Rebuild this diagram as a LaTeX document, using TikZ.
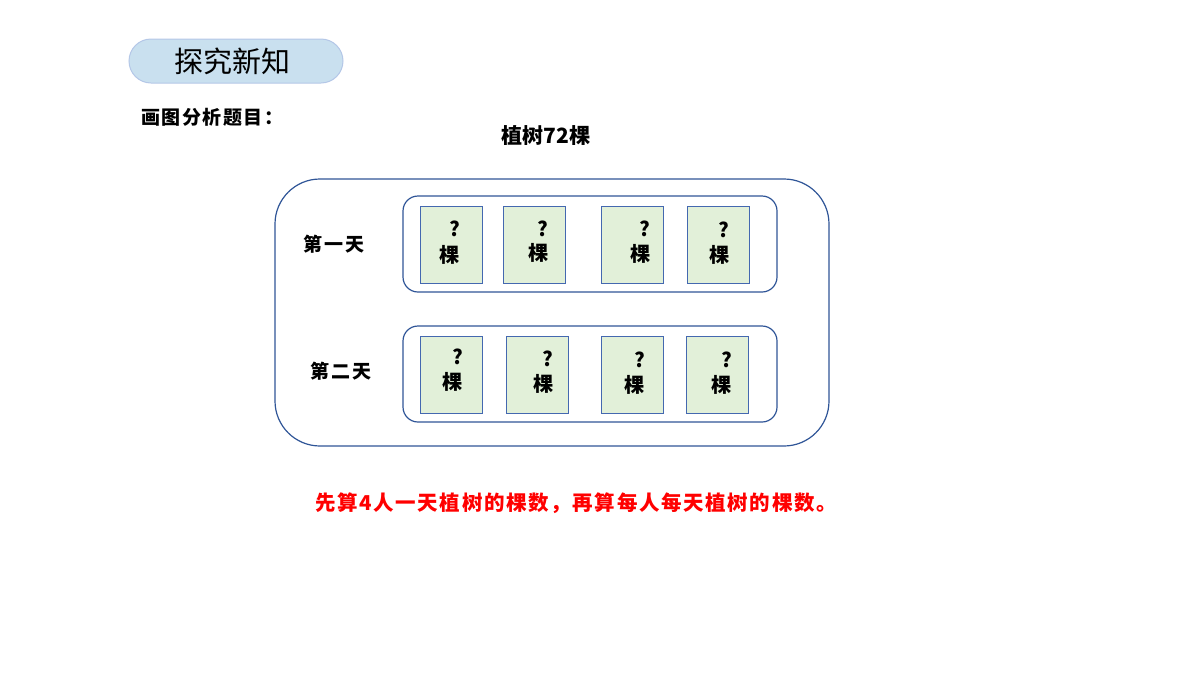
\documentclass[tikz,border=0pt]{standalone}
\usepackage{fontspec}
\newfontfamily\cjk{Noto Sans CJK SC}
\newfontfamily\cjksp{Noto Sans CJK SC}[LetterSpace=8]
\newfontfamily\cjkspw{Noto Sans CJK SC}[LetterSpace=12]
\definecolor{titlefill}{HTML}{C9E0EF}
\definecolor{titleborder}{HTML}{B4C7E7}
\definecolor{boxblue}{HTML}{2F5597}
\definecolor{cardfill}{HTML}{E2F0D9}
\definecolor{cardborder}{HTML}{4468B0}
\tikzset{
  outerbox/.style={draw=boxblue, line width=1.2pt, rounded corners=45pt, minimum width=554pt, minimum height=267pt, inner sep=0},
  innerbox/.style={draw=boxblue, line width=1.2pt, rounded corners=15pt, minimum width=374pt, minimum height=96pt, inner sep=0},
  card/.style={draw=cardborder, fill=cardfill, line width=1pt, minimum width=62pt, minimum height=77pt, inner sep=0},
  qmark/.style={inner sep=0, font=\cjk\bfseries\fontsize{20}{20}\selectfont},
  kelabel/.style={inner sep=0, font=\cjk\bfseries\fontsize{20}{20}\selectfont},
  daylabel/.style={inner sep=0, font=\cjkspw\bfseries\fontsize{19}{19}\selectfont},
}
\begin{document}
\begin{tikzpicture}[x=1pt,y=-1pt]
\useasboundingbox (0,0) rectangle (1200,675);
\node[draw=titleborder, fill=titlefill, line width=1pt, rounded corners=22pt, minimum width=214pt, minimum height=44pt, inner sep=0] (title) at (236,61) {};
\node[inner sep=0, font=\cjk\fontsize{29}{29}\selectfont] (titletext) at (232,61) {探究新知};
\node[inner sep=0, anchor=west, font=\cjksp\bfseries\fontsize{19}{19}\selectfont] (analyze) at (141,117) {画图分析题目：};
\node[inner sep=0, font=\cjk\bfseries\fontsize{21}{21}\selectfont] (total) at (546,136) {植树72棵};
\node[outerbox] (outer) at (552,312.5) {};
\node[innerbox] (day1) at (590,244) {};
\node[innerbox] (day2) at (590,374) {};
\node[daylabel] (d1label) at (334,244) {第一天};
\node[daylabel] (d2label) at (341,371) {第二天};
% row 1
\node[card] (c11) at (451,244.5) {};
\node[card] (c12) at (534,244.5) {};
\node[card] (c13) at (632,244.5) {};
\node[card] (c14) at (718,244.5) {};
\node[qmark] (q11) at (455,229) {?};
\node[kelabel] (k11) at (449,255) {棵};
\node[qmark] (q12) at (543,229) {?};
\node[kelabel] (k12) at (538,253) {棵};
\node[qmark] (q13) at (645,229) {?};
\node[kelabel] (k13) at (640,254) {棵};
\node[qmark] (q14) at (724,230) {?};
\node[kelabel] (k14) at (719,255) {棵};
% row 2
\node[card] (c21) at (451,374.5) {};
\node[card] (c22) at (537,374.5) {};
\node[card] (c23) at (632,374.5) {};
\node[card] (c24) at (717,374.5) {};
\node[qmark] (q21) at (458,357) {?};
\node[kelabel] (k21) at (452,382) {棵};
\node[qmark] (q22) at (548,359) {?};
\node[kelabel] (k22) at (543,384) {棵};
\node[qmark] (q23) at (640,360) {?};
\node[kelabel] (k23) at (634,385) {棵};
\node[qmark] (q24) at (727,360) {?};
\node[kelabel] (k24) at (721,385) {棵};
\node[inner sep=0, text=red, font=\cjksp\bfseries\fontsize{20.5}{20.5}\selectfont] (hint) at (576,503) {先算4人一天植树的棵数，再算每人每天植树的棵数。};
\end{tikzpicture}
\end{document}
